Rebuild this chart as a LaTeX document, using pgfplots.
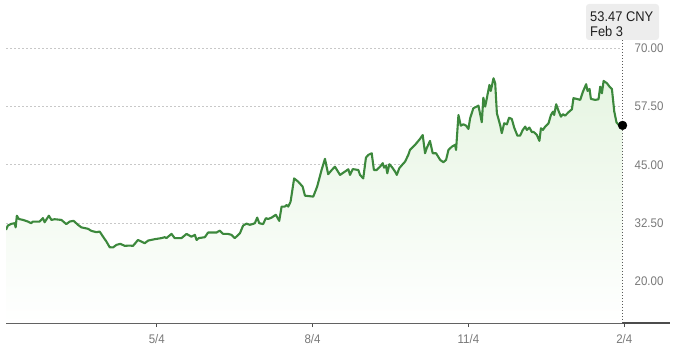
\documentclass[border=0pt]{standalone}
\usepackage{pgfplots}
\pgfplotsset{compat=1.18}
\usepackage{pgfplotstable}
\usepackage{fontspec}
\setmainfont{Liberation Sans}[FakeStretch=0.92]
\definecolor{linegreen}{RGB}{60,136,60}
\definecolor{fillgreen}{RGB}{230,245,226}
\definecolor{ticklab}{RGB}{120,120,120}
\definecolor{gridc}{RGB}{200,200,200}
\pgfplotstableread{
x y
-89 31.07
-87.9 32.0
-85.9 32.35
-83.9 32.5
-83.3 31.6
-82.6 34.1
-81.4 33.4
-79.0 33.2
-76.1 32.85
-74.1 32.5
-73.1 32.85
-69.1 32.85
-67.2 33.6
-66.2 32.7
-63.7 34.1
-62.2 33.2
-60.3 33.35
-56.3 33.2
-53.4 32.3
-51.4 32.85
-49.1 33.0
-46.5 32.15
-44.5 31.6
-40.6 31.3
-38.6 30.85
-35.6 30.57
-33.7 30.7
-31.7 29.6
-29.7 28.55
-27.8 27.35
-25.8 27.3
-23.8 27.85
-21.5 28.07
-18.9 27.64
-16.0 27.7
-14.0 27.64
-11.1 28.9
-9.0 28.55
-7.1 28.2
-5.1 28.77
-1.2 29.07
2.8 29.3
4.7 29.5
5.7 29.3
8.7 30.2
10.6 29.3
14.6 29.3
17.6 30.2
20.5 29.6
22.5 30.0
23.5 28.9
24.8 29.3
28.4 29.5
30.3 30.5
35.3 30.5
37.2 30.9
39.2 30.2
42.1 30.2
44.1 30.0
46.1 29.3
49.1 30.35
51.0 32.0
53.0 32.4
55.0 32.15
56.9 32.35
57.9 32.5
59.3 33.7
60.5 32.5
62.8 32.3
64.4 33.57
65.8 33.4
67.8 33.7
70.3 34.3
72.3 33.0
73.7 36.06
75.6 36.06
76.7 36.4
77.6 36.06
79.0 37.1
81.1 42.1
83.5 41.4
86.1 40.35
87.5 38.4
92.4 38.2
94.7 40.35
97.3 43.9
99.3 46.3
101.2 43.0
103.3 43.9
105.2 44.6
108.2 42.85
111.1 43.56
113.1 44.07
114.1 42.85
115.7 44.1
119.0 43.9
120.0 42.85
121.9 42.1
123.5 46.56
124.9 47.14
126.9 47.5
128.2 43.9
129.8 43.9
131.8 44.6
133.4 45.36
134.2 44.4
135.3 44.84
136.1 43.2
137.3 45.14
138.7 44.6
140.7 43.56
141.7 42.85
143.2 44.3
145.2 45.14
146.6 45.7
148.5 47.14
149.5 48.2
152.5 49.3
155.4 50.56
157.0 51.4
158.4 47.5
159.4 48.6
161.3 50.14
162.9 47.5
164.9 47.5
167.3 46.07
169.2 45.57
170.8 46.07
172.2 48.2
174.2 48.9
176.1 49.3
176.7 48.2
178.1 55.7
179.5 53.4
181.0 53.7
182.6 53.4
184.0 52.7
185.0 55.0
186.9 57.14
188.9 57.5
189.9 57.7
191.9 54.14
192.8 59.4
193.9 57.5
196.4 62.14
197.2 60.85
198.8 63.57
199.8 62.5
200.8 56.07
202.7 53.57
203.7 51.8
205.1 53.93
206.7 53.7
208.0 55.1
209.6 54.85
211.0 53.0
212.9 51.27
214.5 51.27
216.1 52.5
217.5 53.2
218.5 52.5
220.0 53.0
221.5 52.0
222.4 52.1
224.4 51.4
225.9 50.14
226.8 52.85
228.0 52.5
229.3 53.2
231.3 53.93
232.7 55.7
233.9 56.4
234.6 55.7
235.8 58.0
237.2 56.57
238.6 55.34
239.8 55.86
241.1 55.56
243.1 56.3
245.1 56.93
246.0 59.3
248.0 59.14
250.0 58.93
251.6 60.7
253.5 62.3
254.3 60.85
255.5 61.28
256.3 59.14
258.9 58.93
260.8 59.07
261.8 61.77
262.8 60.36
263.8 63.0
265.8 62.5
267.3 61.77
268.7 61.28
270.1 56.43
271.4 54.14
272.7 53.57
274.1 53.2
275 53.47
}\pricedata
\begin{document}
\begin{tikzpicture}
\useasboundingbox (0,0) rectangle (680pt,351pt);
\begin{axis}[
  at={(6pt,28pt)}, anchor=south west,
  scale only axis, width=664pt, height=323pt,
  xmin=-89, xmax=303, ymin=11.1, ymax=80.35,
  separate axis lines,
  axis x line*=bottom, axis y line*=right,
  x axis line style={-, draw=black!70, line width=1.3pt},
  y axis line style={draw=none},
  xtick={0,92,184,276}, xticklabels={5/4,8/4,11/4,2/4},
  xtick align=outside, major tick length=4pt,
  xtick style={draw=black!70, line width=1pt},
  xticklabel style={font=\fontsize{12.5}{14}\selectfont, text=ticklab, yshift=-4pt},
  ytick={20,32.5,45,57.5,70},
  ytick style={draw=none},
  yticklabel style={font=\fontsize{12.5}{14}\selectfont, text=ticklab, anchor=east, xshift=-3pt,
    /pgf/number format/.cd, fixed, fixed zerofill, precision=2},
  /pgf/number format/assume math mode=true,
]
\pgfplotsinvokeforeach{20,32.5,45,57.5,70}{
  \draw[gridc, line width=0.8pt, dash pattern=on 1.5pt off 2.5pt] (axis cs:-89,#1) -- (axis cs:273.5,#1);
}
\addplot[draw=none, top color=fillgreen, bottom color=white] table[x=x,y=y]{\pricedata} \closedcycle;
\addplot[linegreen, line width=2.1pt, line join=round] table[x=x,y=y]{\pricedata};
\draw[black!65, line width=1.6pt, dash pattern=on 1.5pt off 1.5pt] (axis cs:275,71.8) -- (axis cs:275,11.1);
\addplot[only marks, mark=*, mark size=4.4pt, black] coordinates {(275,53.47)};
\end{axis}
\fill[black!7, rounded corners=3pt] (586pt,347pt) rectangle (659pt,311pt);
\node[anchor=base west, inner sep=0pt, text=black!88, font=\fontsize{14}{16}\selectfont] at (590pt,329pt) {53.47 CNY};
\node[anchor=base west, inner sep=0pt, text=black!88, font=\fontsize{14}{16}\selectfont] at (590pt,314pt) {Feb 3};
\end{tikzpicture}
\end{document}
